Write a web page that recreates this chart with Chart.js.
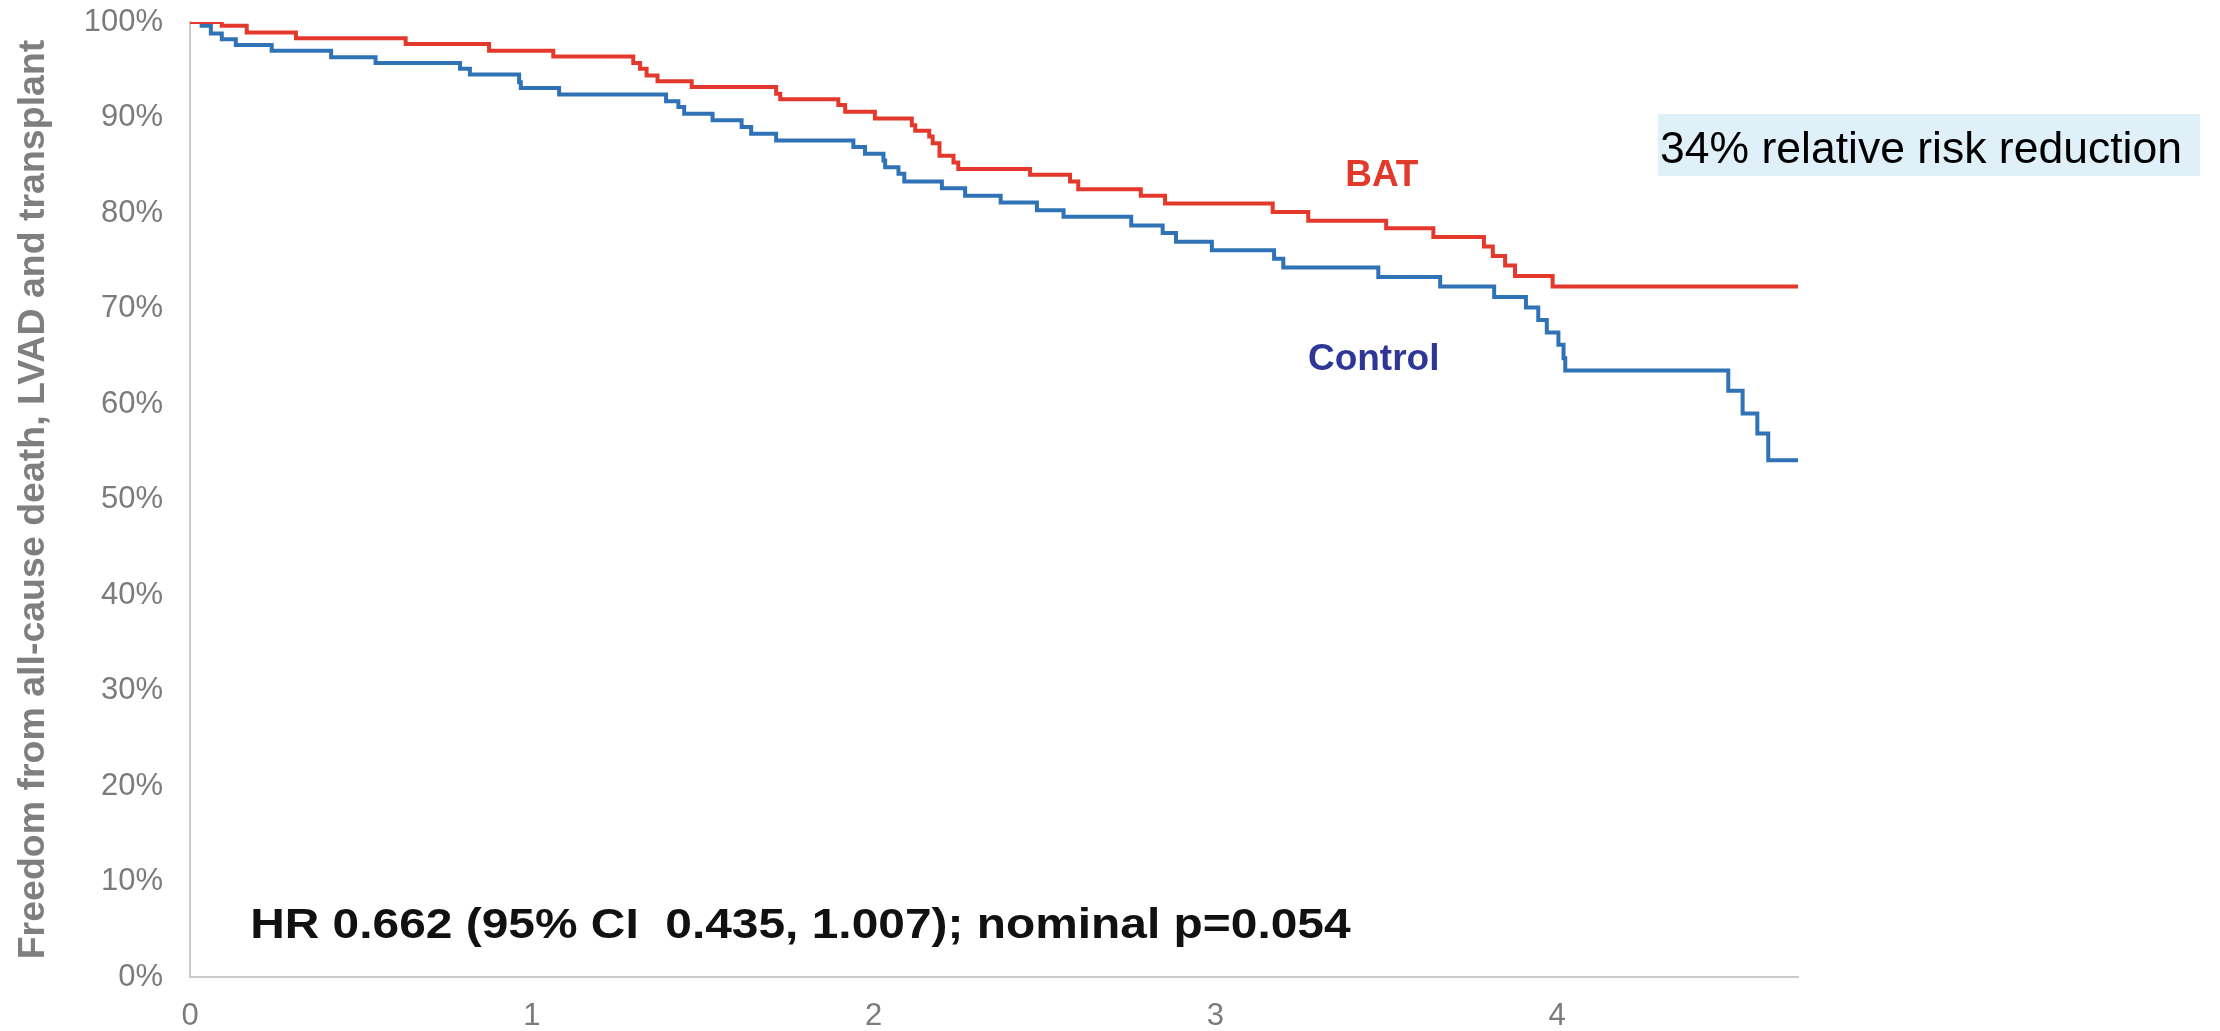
<!DOCTYPE html>
<html>
<head>
<meta charset="utf-8">
<title>Freedom from all-cause death, LVAD and transplant</title>
<script src="https://cdn.jsdelivr.net/npm/chart.js@4.4.1/dist/chart.umd.min.js"></script>
<style>
  html, body { margin: 0; padding: 0; background: #fff; }
</style>
</head>
<body>
<canvas id="km" width="2220" height="1031"></canvas>
<script>
// Kaplan-Meier steps: years of follow-up and event-free survival (%)
const batTimes = [0, 0.093, 0.166, 0.310, 0.631, 0.875, 1.063, 1.297, 1.317, 1.336,
  1.368, 1.468, 1.715, 1.727, 1.897, 1.917, 2.004, 2.112, 2.122, 2.163,
  2.173, 2.193, 2.234, 2.248, 2.458, 2.575, 2.599, 2.782, 2.853, 3.168,
  3.272, 3.500, 3.638, 3.786, 3.812, 3.848, 3.877, 3.987, 4.705];
const batSurv = [100, 99.6, 98.9, 98.3, 97.7, 97.0, 96.4, 95.7, 95.1, 94.4,
  93.8, 93.2, 92.5, 91.9, 91.3, 90.6, 89.9, 89.2, 88.6, 88.0,
  87.3, 86.0, 85.3, 84.6, 84.0, 83.3, 82.5, 81.8, 81.0, 80.1,
  79.2, 78.4, 77.5, 76.5, 75.5, 74.5, 73.4, 72.3, 72.3];

const controlTimes = [0, 0.034, 0.061, 0.093, 0.134, 0.239, 0.413, 0.543, 0.790, 0.819,
  0.963, 0.968, 1.080, 1.393, 1.429, 1.446, 1.529, 1.614, 1.642, 1.715,
  1.941, 1.975, 2.029, 2.034, 2.073, 2.090, 2.200, 2.268, 2.372, 2.478,
  2.556, 2.754, 2.846, 2.885, 2.990, 3.172, 3.199, 3.477, 3.658, 3.816,
  3.909, 3.945, 3.970, 4.004, 4.019, 4.024, 4.501, 4.543, 4.586, 4.618, 4.705];
const controlSurv = [100, 99.6, 98.8, 98.2, 97.6, 97.0, 96.3, 95.7, 95.1, 94.5,
  93.7, 93.1, 92.4, 91.7, 91.1, 90.4, 89.7, 89.0, 88.3, 87.6,
  86.9, 86.2, 85.5, 84.8, 84.1, 83.3, 82.6, 81.8, 81.1, 80.3,
  79.6, 78.7, 77.9, 77.0, 76.1, 75.2, 74.3, 73.3, 72.3, 71.2,
  70.1, 68.8, 67.5, 66.2, 64.8, 63.5, 61.4, 59.0, 56.9, 54.1, 54.1];

const xTicks = [0, 1, 2, 3, 4];
const yTicks = [0, 10, 20, 30, 40, 50, 60, 70, 80, 90, 100];
const xMax = 4.705;

const yTitle = 'Freedom from all-cause death, LVAD and transplant';
const hrText = 'HR 0.662 (95% CI  0.435, 1.007); nominal p=0.054';
const rrrText = '34% relative risk reduction';

const FONT = '"Liberation Sans", Arial, Helvetica, sans-serif';
const RED = '#e3392c';
const BLUE = '#2f73b6';

const toPoints = (times, surv) => times.map((t, i) => ({ x: t, y: surv[i] }));

// arm labels, the HR line and the shaded call-out
const annotations = {
  id: 'annotations',
  afterDraw(chart) {
    const { ctx, scales: { x, y } } = chart;
    ctx.save();
    ctx.textAlign = 'left';
    ctx.textBaseline = 'alphabetic';

    ctx.font = 'bold 37px ' + FONT;
    ctx.fillStyle = RED;
    ctx.fillText('BAT', x.getPixelForValue(3.38), y.getPixelForValue(82.8));
    ctx.fillStyle = '#2e3796';
    ctx.fillText('Control', x.getPixelForValue(3.271), y.getPixelForValue(63.6));

    // HR line is set a little wide
    ctx.save();
    ctx.translate(x.getPixelForValue(0.176), y.getPixelForValue(4.1));
    ctx.scale(1.14, 1);
    ctx.font = 'bold 42px ' + FONT;
    ctx.fillStyle = '#111';
    ctx.fillText(hrText, 0, 0);
    ctx.restore();

    ctx.fillStyle = '#dff0f8';
    ctx.fillRect(1658, 114, 542, 62);
    ctx.font = '44.5px ' + FONT;
    ctx.fillStyle = '#000';
    ctx.fillText(rrrText, 1660, 163);
    ctx.restore();
  }
};

// tick labels may hang past the plot edges without shrinking it
const noOverhang = s => {
  s.paddingTop = 0;
  s.paddingBottom = 0;
  s.paddingLeft = 0;
  s.paddingRight = 0;
};

new Chart(document.getElementById('km'), {
  type: 'line',
  data: {
    datasets: [
      {
        label: 'BAT',
        data: toPoints(batTimes, batSurv),
        borderColor: RED,
        borderWidth: 4,
        stepped: 'before',
        pointRadius: 0,
        fill: false
      },
      {
        label: 'Control',
        data: toPoints(controlTimes, controlSurv),
        borderColor: BLUE,
        borderWidth: 4,
        stepped: 'before',
        pointRadius: 0,
        fill: false
      }
    ]
  },
  options: {
    responsive: false,
    animation: false,
    devicePixelRatio: 1,
    layout: { padding: { top: 22, right: 422, bottom: 0, left: 0 } },
    plugins: {
      legend: { display: false },
      tooltip: { enabled: false }
    },
    scales: {
      x: {
        type: 'linear',
        min: 0,
        max: xMax,
        grid: { display: false, drawTicks: false },
        border: { color: '#cacaca', width: 2 },
        ticks: {
          color: '#7b7b7b',
          font: { family: FONT, size: 31 },
          padding: 21,
          maxRotation: 0
        },
        afterBuildTicks: s => { s.ticks = xTicks.map(v => ({ value: v })); },
        afterFit: s => { noOverhang(s); s.height = 54; }
      },
      y: {
        min: 0,
        max: 100,
        grid: { display: false, drawTicks: false },
        border: { color: '#cacaca', width: 2 },
        ticks: {
          color: '#7b7b7b',
          font: { family: FONT, size: 31 },
          padding: 27,
          callback: v => v + '%'
        },
        afterBuildTicks: s => { s.ticks = yTicks.map(v => ({ value: v })); },
        afterFit: s => { noOverhang(s); s.width = 190; },
        title: {
          display: true,
          text: yTitle,
          color: '#7f7f7f',
          font: { family: FONT, size: 37.5, weight: 'bold' },
          padding: { top: 11, bottom: 0 }
        }
      }
    }
  },
  plugins: [annotations]
});
</script>
</body>
</html>
